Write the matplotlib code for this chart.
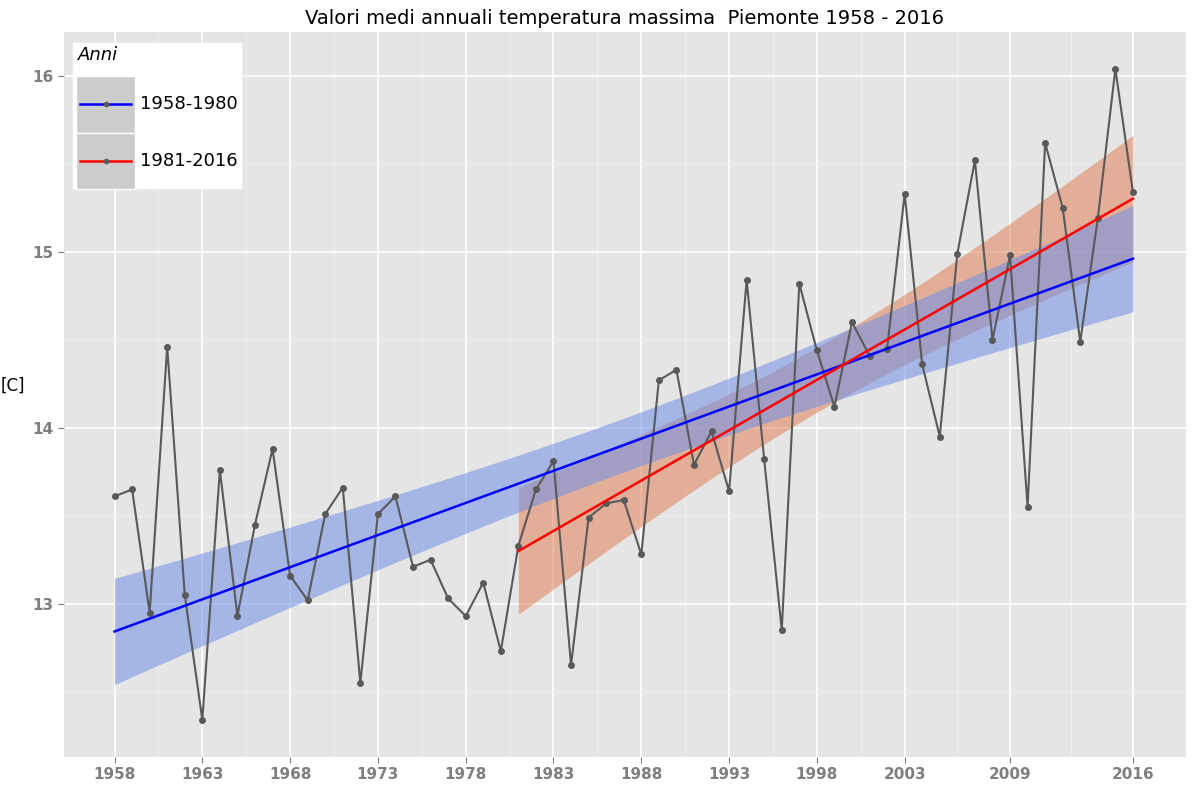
import matplotlib
matplotlib.use("Agg")
import matplotlib.pyplot as plt
from matplotlib.patches import Rectangle
from matplotlib.lines import Line2D
import numpy as np

years = list(range(1958, 2017))
tmax = [13.61, 13.65, 12.95, 14.46, 13.05, 12.34, 13.76, 12.93, 13.45, 13.88,
        13.16, 13.02, 13.51, 13.66, 12.55, 13.51, 13.61, 13.21, 13.25, 13.03,
        12.93, 13.12, 12.73, 13.33, 13.65, 13.81, 12.65, 13.49, 13.57, 13.59,
        13.28, 14.27, 14.33, 13.79, 13.98, 13.64, 14.84, 13.82, 12.85, 14.82,
        14.44, 14.12, 14.60, 14.41, 14.45, 15.33, 14.36, 13.95, 14.99, 15.52,
        14.50, 14.98, 13.55, 15.62, 15.25, 14.49, 15.19, 16.04, 15.34]
tick_years = [1958, 1963, 1968, 1973, 1978, 1983, 1988, 1993, 1998, 2003, 2009, 2016]
periods = ["1958-1980", "1981-2016"]
starts = [1958, 1981]
line_cols = ["#0000ff", "#ff0000"]
band_cols = ["#6f8fe8", "#e0825a"]
tq = [2.003, 2.032]
zb = [3, 2]

x = np.array(years, dtype=float)
y = np.array(tmax)

fig = plt.figure(figsize=(12, 8), dpi=100)
ax = fig.add_axes([0.053, 0.054, 0.935, 0.906])
ax.set_facecolor("#e5e5e5")

for s, lc, bc, t, z in zip(starts, line_cols, band_cols, tq, zb):
    m = x >= s
    xs, ys = x[m], y[m]
    b, a = np.polyfit(xs, ys, 1)
    fit = a + b * xs
    n = len(xs)
    se = np.sqrt(np.sum((ys - fit) ** 2) / (n - 2))
    sx = se * np.sqrt(1 / n + (xs - xs.mean()) ** 2 / np.sum((xs - xs.mean()) ** 2))
    ax.fill_between(xs, fit - t * sx, fit + t * sx, color=bc, alpha=0.55, lw=0, zorder=z)
    ax.plot(xs, fit, color=lc, lw=1.8, zorder=5)

ax.plot(x, y, color="#595959", lw=1.5, marker="o", ms=4, zorder=4)

ax.set_xlim(1955.1, 2019.0)
ax.set_ylim(12.13, 16.25)
ax.set_xticks(tick_years)
ax.set_yticks([13, 14, 15, 16])
ax.set_yticks([12.5, 13.5, 14.5, 15.5], minor=True)
ax.set_xticks([1960.5, 1965.5, 1970.5, 1975.5, 1980.5, 1985.5, 1990.5, 1995.5,
               2000.5, 2006, 2012.5], minor=True)
ax.grid(which="major", color="white", lw=1.2)
ax.grid(which="minor", color="#f0f0f0", lw=0.6)
ax.set_axisbelow(True)
for sp in ax.spines.values():
    sp.set_visible(False)
ax.tick_params(which="both", length=4, color="#7f7f7f", labelcolor="#7f7f7f", labelsize=11)
ax.tick_params(which="minor", length=0)
for lab in ax.get_xticklabels() + ax.get_yticklabels():
    lab.set_fontweight("bold")
ax.set_ylabel("[C]", rotation=0, fontsize=12, labelpad=14)
ax.set_title("Valori medi annuali temperatura massima  Piemonte 1958 - 2016", fontsize=14, pad=6)

# legend box drawn by hand to mimic ggplot keys
tr = ax.transAxes
ax.add_patch(Rectangle((0.008, 0.785), 0.15, 0.2, transform=tr, color="white", zorder=6))
ax.text(0.013, 0.968, "Anni", transform=tr, fontsize=13, style="italic", va="center", zorder=7)
for i, (p, lc) in enumerate(zip(periods, line_cols)):
    yy = 0.9 - i * 0.078
    ax.add_patch(Rectangle((0.011, yy - 0.039), 0.053, 0.078, transform=tr,
                           color="#cccccc", ec="white", lw=1, zorder=7))
    ax.add_line(Line2D([0.015, 0.060], [yy, yy], transform=tr, color=lc, lw=1.8, zorder=8))
    ax.plot([0.0375], [yy], transform=tr, marker="o", ms=3, color="#595959", zorder=9)
    ax.text(0.068, yy, p, transform=tr, fontsize=13, va="center", zorder=8)

fig.savefig("out.png", dpi=100)
